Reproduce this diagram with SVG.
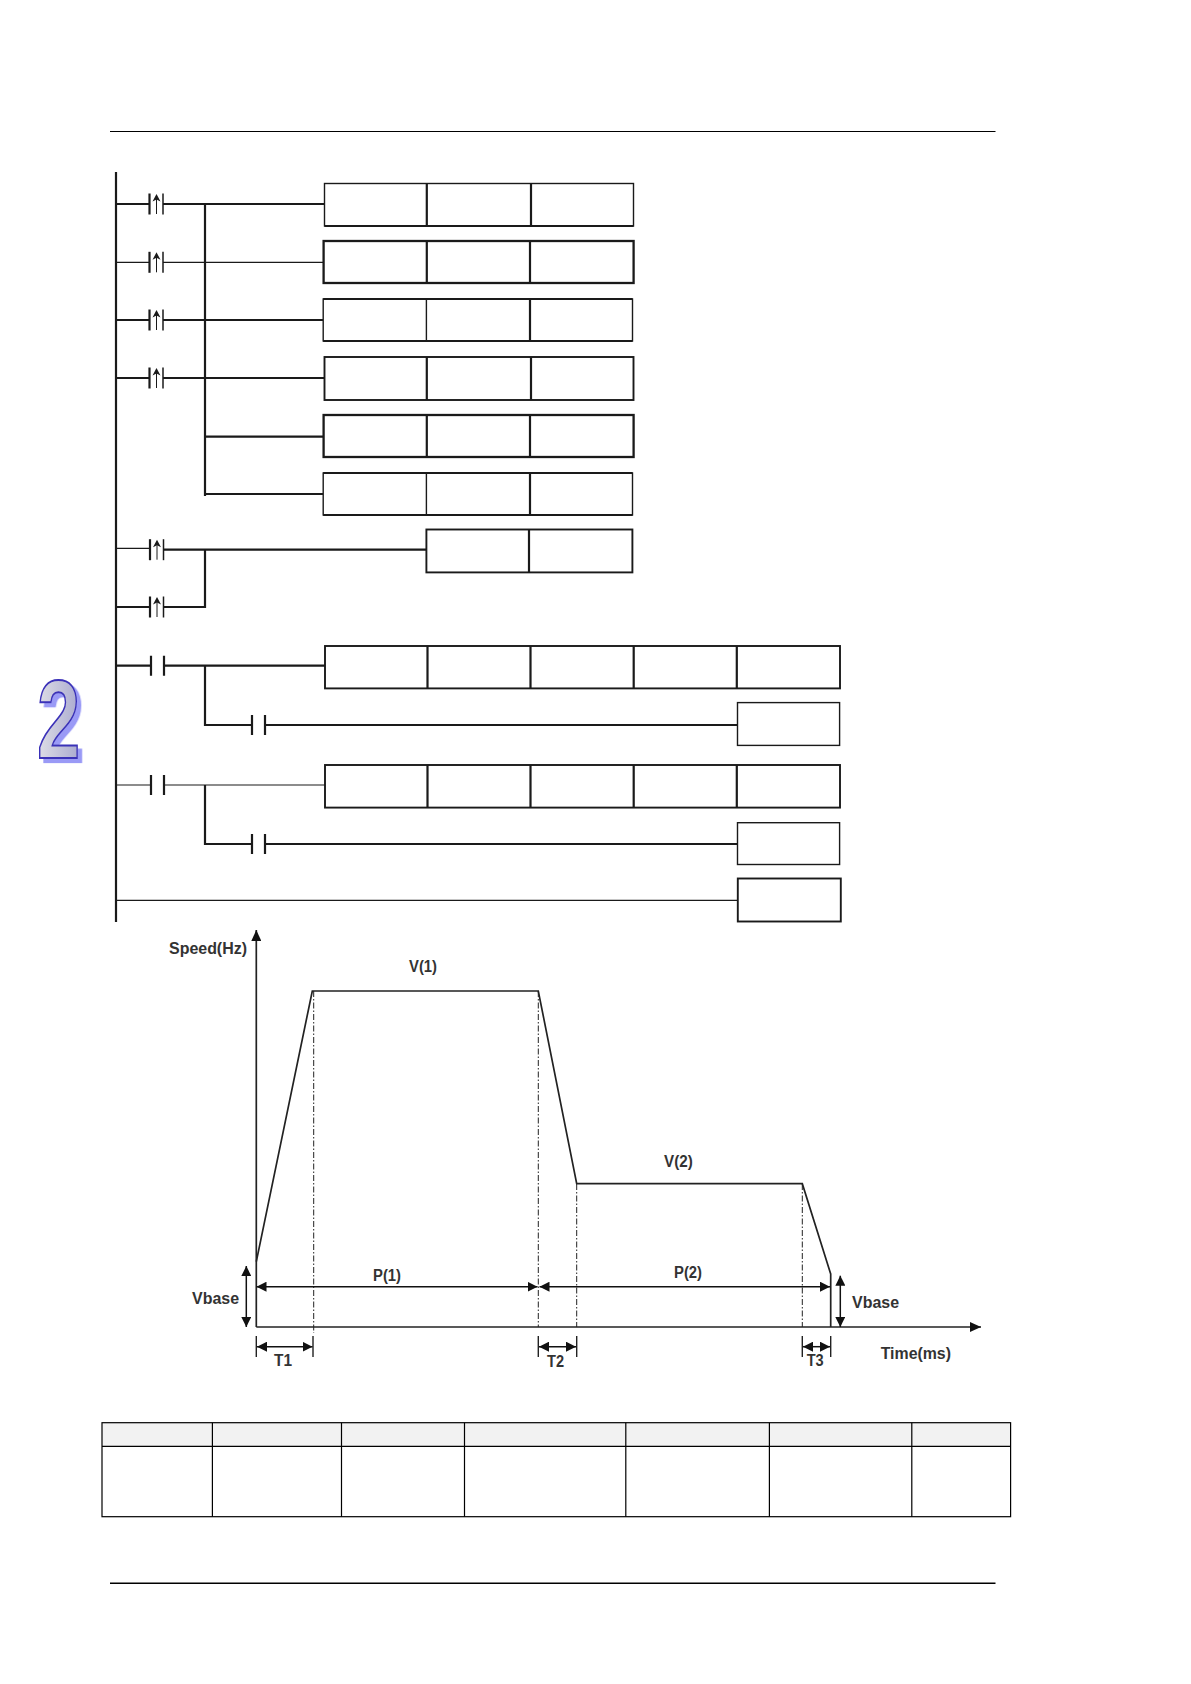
<svg xmlns="http://www.w3.org/2000/svg" width="1191" height="1684" viewBox="0 0 1191 1684">
<style>
.w{stroke:#1a1a1a;fill:none;stroke-width:2.2}
.t{stroke:#1a1a1a;fill:none;stroke-width:1.2}
.b{stroke:#1a1a1a;fill:#fff;stroke-width:1.9}
.bt{stroke:#1a1a1a;fill:#fff;stroke-width:1.4}
.bk{stroke:#1a1a1a;fill:#fff;stroke-width:2.3}
.c{stroke:#222;fill:none;stroke-width:1.4}
.ax{stroke:#222;fill:none;stroke-width:1.7}
.da{stroke:#222;fill:none;stroke-width:1;stroke-dasharray:6 2 1.5 2}
.ar{stroke:#111;fill:none;stroke-width:1.5;marker-start:url(#h);marker-end:url(#h)}
.l{font-family:"Liberation Sans",Arial,sans-serif;font-weight:700;font-size:16px;fill:#333}
.g{stroke:#000;fill:none;stroke-width:1.2}
</style>
<defs>
<marker id="h" viewBox="0 0 10 10" refX="10" refY="5" markerUnits="userSpaceOnUse" markerWidth="10" markerHeight="10" orient="auto-start-reverse"><path d="M0 0L10 5L0 10z" fill="#111"/></marker>
<marker id="e" viewBox="0 0 11 10" refX="11" refY="5" markerUnits="userSpaceOnUse" markerWidth="11" markerHeight="10" orient="auto"><path d="M0 0L11 5L0 10z" fill="#111"/></marker>
<linearGradient id="gf" x1="0" y1="0" x2="1" y2="0"><stop offset="0" stop-color="#dfdfe6"/><stop offset="1" stop-color="#a9a9cf"/></linearGradient>
<filter id="sh" x="-20%" y="-20%" width="150%" height="150%"><feDropShadow dx="6" dy="4" stdDeviation="0.4" flood-color="#9a9af6"/></filter>
<g id="rise"><path d="M0 -10.5V10.5" class="w"/><path d="M13.5 -10.5V10.5" stroke="#1a1a1a" stroke-width="1.5" fill="none"/><path d="M7 -6V10" stroke="#1a1a1a" stroke-width="1" fill="none"/><path d="M3 -2.5L7 -10L11 -2.5L7 -4.5z" fill="#1a1a1a"/></g>
<g id="no"><path d="M0 -10V10M13 -10V10" class="w"/></g>
</defs>
<rect width="1191" height="1684" fill="#fff"/>
<path id="rule-top" d="M110 131.5H995.5" stroke="#000" stroke-width="1.2"/>
<path id="rule-bottom" d="M110 1583.3H995.5" stroke="#000" stroke-width="1.4"/>
<g id="tab-number"><text x="0" y="0" transform="translate(37 758) scale(.72 1.03)" font-family="'Liberation Sans',Arial,sans-serif" font-weight="700" font-size="108" fill="url(#gf)" stroke="#3a30b8" stroke-width="1.9" filter="url(#sh)">2</text></g>
<g id="connectors">
<path class="w" d="M116 172V922"/>
<path class="w" d="M116 204H150M163 204H324M205 204V496"/>
<path class="t" d="M116 262.3H150M163 262.3H324"/>
<path class="w" d="M116 320H150M163 320H323"/>
<path class="w" d="M116 378H150M163 378H324"/>
<path class="w" d="M205 436.7H324M205 494H323"/>
<path class="t" d="M116 548.3H150"/>
<path class="w" d="M163 549.7H426M205 549.7V608M116 607H150M163 607H205"/>
<path class="w" d="M116 665.7H151M164 665.7H325M205 665.7V726M205 725H252M265 725H737"/>
<path class="t" d="M116 785H151M164 785H325"/>
<path class="w" d="M205 785V845M205 844H252M265 844H737"/>
<path class="t" d="M116 900.3H738"/>
</g>
<g id="c1"><use href="#rise" x="149.5" y="204"/></g>
<g id="c2"><use href="#rise" x="149.5" y="262.3"/></g>
<g id="c3"><use href="#rise" x="149.5" y="320"/></g>
<g id="c4"><use href="#rise" x="149.5" y="378"/></g>
<g id="c5"><use href="#rise" x="150" y="549.7"/></g>
<g id="c6"><use href="#rise" x="150" y="607"/></g>
<g id="c7"><use href="#no" x="151" y="665.7"/></g>
<g id="c8"><use href="#no" x="252" y="725"/></g>
<g id="c9"><use href="#no" x="151" y="785"/></g>
<g id="c10"><use href="#no" x="252" y="844"/></g>
<g id="box1"><rect class="bt" x="324.5" y="183.5" width="309" height="42.5"/><path class="w" d="M426.8 183.5V226M531 183.5V226M324.5 226H633.5"/></g>
<g id="box2"><rect class="bk" x="323.6" y="241" width="310" height="42"/><path class="w" d="M426.8 241V283M530 241V283"/></g>
<g id="box3"><rect class="bt" x="323.2" y="299" width="309.3" height="42"/><path class="w" d="M530 299V341M323.2 299H632.5M323.2 341H632.5"/><path class="bt" d="M426.4 299V341"/></g>
<g id="box4"><rect class="b" x="324.5" y="357" width="309" height="43"/><path class="w" d="M426.8 357V400M531 357V400"/></g>
<g id="box5"><rect class="bk" x="323.6" y="415" width="310" height="42"/><path class="w" d="M426.8 415V457M530 415V457"/></g>
<g id="box6"><rect class="bt" x="323.2" y="473" width="309.3" height="42"/><path class="w" d="M530 473V515M323.2 473H632.5M323.2 515H632.5"/><path class="bt" d="M426.4 473V515"/></g>
<g id="box7"><rect class="b" x="426.4" y="529.5" width="206" height="42.9"/><path class="w" d="M529 529.5V572.4"/></g>
<g id="box8"><rect class="b" x="325" y="646" width="515" height="42.4"/><path class="w" d="M427.5 646V688.4M530.5 646V688.4M633.7 646V688.4M736.8 646V688.4"/></g>
<g id="box9"><rect class="bt" x="737.5" y="702.6" width="102.1" height="42.8"/></g>
<g id="box10"><rect class="b" x="325" y="765" width="515" height="42.6"/><path class="w" d="M427.5 765V807.6M530.5 765V807.6M633.7 765V807.6M736.8 765V807.6"/></g>
<g id="box11"><rect class="bt" x="737.5" y="822.7" width="102.1" height="41.8"/></g>
<g id="box12"><rect class="b" x="737.8" y="878.5" width="103" height="43"/></g>
<g id="chart">
<path class="ax" d="M256.3 1327V930" marker-end="url(#e)"/>
<path class="ax" d="M256.3 1327H981" marker-end="url(#e)"/>
<path class="ax" d="M256.3 1261.7L312.3 991H538.3L576.7 1183.7H802.3L830.7 1274V1327"/>
<path class="da" d="M313.7 991V1333M538.3 991V1327M576.7 1184V1327M802.3 1184V1327"/>
<path class="ar" d="M256.5 1286.7H537.5"/>
<path class="ar" d="M539.5 1286.7H830"/>
<path class="ar" d="M246.3 1266V1327"/>
<path class="ar" d="M840.3 1275.7V1327"/>
<path class="c" d="M256.3 1336V1357M313 1336V1357M538.3 1336V1357M576.7 1336V1357M802.3 1336V1357M830.7 1336V1357"/>
<path class="ar" d="M257 1346.7H312.5"/>
<path class="ar" d="M539 1346.7H576"/>
<path class="ar" d="M803 1346.7H830"/>
<text class="l" x="169" y="953.5" textLength="78" lengthAdjust="spacingAndGlyphs">Speed(Hz)</text>
<text class="l" x="409" y="972" textLength="28" lengthAdjust="spacingAndGlyphs">V(1)</text>
<text class="l" x="373" y="1281" textLength="28" lengthAdjust="spacingAndGlyphs">P(1)</text>
<text class="l" x="192" y="1304" textLength="47" lengthAdjust="spacingAndGlyphs">Vbase</text>
<text class="l" x="274" y="1365.5" textLength="18" lengthAdjust="spacingAndGlyphs">T1</text>
<text class="l" x="547" y="1367" textLength="17" lengthAdjust="spacingAndGlyphs">T2</text>
<text class="l" x="664" y="1166.7" textLength="28.7" lengthAdjust="spacingAndGlyphs">V(2)</text>
<text class="l" x="674" y="1277.7" textLength="28" lengthAdjust="spacingAndGlyphs">P(2)</text>
<text class="l" x="852" y="1308" textLength="47" lengthAdjust="spacingAndGlyphs">Vbase</text>
<text class="l" x="806.7" y="1365.7" textLength="17" lengthAdjust="spacingAndGlyphs">T3</text>
<text class="l" x="880.7" y="1358.7" textLength="70.3" lengthAdjust="spacingAndGlyphs">Time(ms)</text>
</g>
<g id="table">
<rect x="102" y="1422.7" width="908.6" height="23.6" fill="#f2f2f2"/>
<rect class="g" x="102" y="1422.7" width="908.6" height="94"/>
<path class="g" d="M102 1446.3H1010.6M212.4 1422.7V1516.7M341.5 1422.7V1516.7M464.5 1422.7V1516.7M625.8 1422.7V1516.7M769.4 1422.7V1516.7M911.8 1422.7V1516.7"/>
</g>
</svg>
